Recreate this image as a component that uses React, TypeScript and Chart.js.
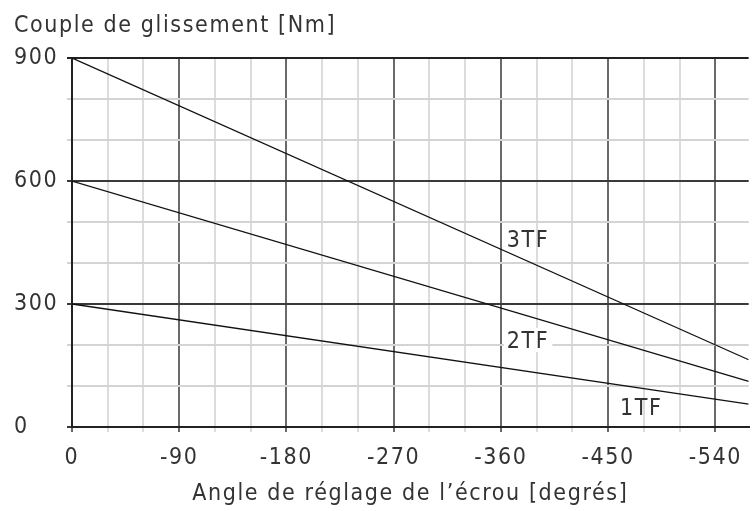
import React, { useEffect, useRef } from 'react';
import { Chart, registerables } from 'chart.js';
Chart.register(...registerables);

// ---- data ----
const angleEnds = [0, -568];
const series1TF = [300, 56];
const series2TF = [600, 111];
const series3TF = [900, 164];
const seriesNames = ['1TF', '2TF', '3TF'];
const xMajorTicks = [0, -90, -180, -270, -360, -450, -540];
const yMajorTicks = [0, 300, 600, 900];
const xMinorStep = 30;
const yMinorStep = 100;
const labelAngles = [-460, -365, -365];
const labelValues = [29, 193, 439];
const yTitle = 'Couple de glissement [Nm]';
const xTitle = 'Angle de réglage de l’écrou [degrés]';

const FONT = "'DejaVu Sans Condensed', 'DejaVu Sans', sans-serif";
const TEXT = '#333333';
const SPACING = '1.6px';
const FSIZE = 23;

const spacingPlugin = {
  id: 'spacing',
  beforeUpdate(chart: any) { chart.ctx.letterSpacing = SPACING; },
  beforeDraw(chart: any) { chart.ctx.letterSpacing = SPACING; },
};

const curveLabels = {
  id: 'curveLabels',
  afterDatasetsDraw(chart: any) {
    const { ctx } = chart;
    const x = chart.scales.x;
    const y = chart.scales.y;
    ctx.save();
    ctx.font = `${FSIZE}px ${FONT}`;
    ctx.letterSpacing = SPACING;
    ctx.textBaseline = 'alphabetic';
    ctx.textAlign = 'left';
    seriesNames.forEach((n, i) => {
      const px = x.getPixelForValue(labelAngles[i]);
      const py = y.getPixelForValue(labelValues[i]);
      if (n === '2TF') {
        const w = ctx.measureText(n).width;
        ctx.fillStyle = '#ffffff';
        ctx.fillRect(px - 3, py - 20, w + 6, 24);
      }
      ctx.fillStyle = TEXT;
      ctx.fillText(n, px, py);
    });
    ctx.restore();
  },
};

export default function App() {
  const ref = useRef<HTMLCanvasElement>(null);
  useEffect(() => {
    document.body.style.margin = '0';
    const xTicks: number[] = [];
    for (let v = 0; v >= xMajorTicks[xMajorTicks.length - 1]; v -= xMinorStep) xTicks.push(v);
    const yTicks: number[] = [];
    for (let v = 0; v <= yMajorTicks[yMajorTicks.length - 1]; v += yMinorStep) yTicks.push(v);
    const mk = (vals: number[]) => angleEnds.map((a, i) => ({ x: a, y: vals[i] }));
    const ds = (label: string, vals: number[]) => ({
      label,
      data: mk(vals),
      borderColor: '#111',
      borderWidth: 1.3,
      pointRadius: 0,
      fill: false,
      tension: 0,
    });
    const font = { family: FONT, size: FSIZE, weight: 'normal', lineHeight: 1.2 };
    const chart = new Chart(ref.current!, {
      type: 'line',
      data: { datasets: [ds('1TF', series1TF), ds('2TF', series2TF), ds('3TF', series3TF)] },
      plugins: [spacingPlugin, curveLabels],
      options: {
        animation: false,
        responsive: false,
        layout: { padding: { left: 14, right: 0, top: 0, bottom: 3 } },
        plugins: {
          legend: { display: false },
          tooltip: { enabled: false },
          title: {
            display: true,
            text: yTitle,
            align: 'start',
            color: TEXT,
            font,
            padding: { top: 12, bottom: 18.4 },
          },
        },
        scales: {
          x: {
            type: 'linear',
            min: -568,
            max: 0,
            reverse: true,
            afterBuildTicks: (s: any) => { s.ticks = xTicks.map((v) => ({ value: v })); },
            afterFit: (s: any) => { s.height = 81; },
            ticks: {
              autoSkip: false,
              maxRotation: 0,
              padding: 12,
              color: TEXT,
              font,
              callback: (v: any) => (xMajorTicks.includes(Number(v)) ? String(v) : ''),
            },
            grid: {
              tickLength: 5,
              lineWidth: 2,
              color: (c: any) => (c.tick && c.tick.value % 90 === 0 ? '#6a6a6a' : '#dcdcdc'),
            },
            border: { display: true, color: '#222', width: 2 },
            title: {
              display: true,
              text: xTitle,
              color: TEXT,
              font,
              padding: { top: 0, bottom: 0 },
            },
          },
          y: {
            type: 'linear',
            min: 0,
            max: 900,
            afterBuildTicks: (s: any) => { s.ticks = yTicks.map((v) => ({ value: v })); },
            afterFit: (s: any) => { s.width = 58; },
            ticks: {
              autoSkip: false,
              crossAlign: 'far',
              padding: 15,
              color: TEXT,
              font,
              callback: (v: any) => (yMajorTicks.includes(Number(v)) ? String(v) : ''),
            },
            grid: {
              tickLength: 5,
              lineWidth: 2,
              color: (c: any) => {
                const v = c.tick ? c.tick.value : 0;
                if (v === 900) return '#222';
                return v % 300 === 0 ? '#3a3a3a' : '#d4d4d4';
              },
            },
            border: { display: true, color: '#222', width: 2 },
          },
        },
      },
    } as any);
    return () => chart.destroy();
  }, []);
  return (
    <div style={{ width: 754, height: 511 }}>
      <canvas ref={ref} width={754} height={511} style={{ display: 'block' }} />
    </div>
  );
}
